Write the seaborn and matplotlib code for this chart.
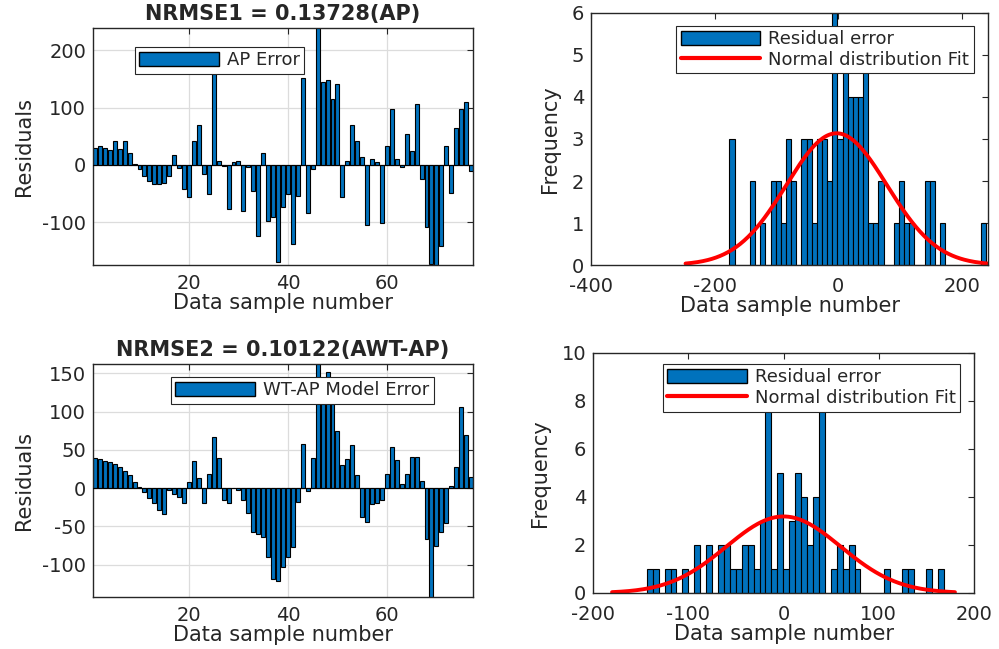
import numpy as np
import matplotlib
matplotlib.use("Agg")
import matplotlib.pyplot as plt
import seaborn as sns
from matplotlib.patches import Patch
from matplotlib.lines import Line2D

# residuals per data sample (1..77)
ap_error = [30, 33, 30, 26, 41, 27, 41, 20, 2, -8,
            -19, -28, -33, -34, -31, -19, 17, -5, -42, -57,
            41, 69, -16, -51, 158, 7, -2, -77, 5, 6,
            -80, -3, -45, -124, 20, -98, -92, -170,
            -74, -51, -138, -54, 152, -84, -8, 245,
            145, 149, 115, 142,
            -57, 7, 69, 42, 13, -105, 10, 5, -102, 33,
            97, 10, -3, 53, 24, 106, -25, -108, -173, -176,
            -141, 33, -50, 64, 97, 110, -10]

wt_ap_error = [40, 38, 36, 34, 32, 27, 22, 17, 8, 2,
               -5, -13, -20, -29, -34, -3, -7, -12, -20, 8,
               36, 13, -20, 19, 67, 40, -15, -20, 0, -2,
               -15, -33, -57, -60, -64, -90, -118, -121, -103, -90,
               -77, -18, 58, -4, 40, 165, 110, 151, 110, 75,
               30, 38, 56, 17, -38, -44, -21, -20, -15, 19,
               54, 37, 5, 19, 41, 41, 10, -66, -145, -75,
               -57, -46, 3, 28, 106, 70, 14]

# histogram counts, 50 equal bins over the residual range
ap_hist_range = (-176, 240)
ap_hist_counts = [3, 0, 0, 0, 2, 0, 1, 0, 2, 2,
                  1, 3, 2, 0, 3, 3, 1, 3, 3, 2,
                  6, 3, 5, 4, 4, 4, 5, 1, 1, 2,
                  0, 0, 1, 2, 1, 1, 0, 0, 2, 2,
                  0, 1, 0, 0, 0, 0, 0, 0, 0, 1]

wt_hist_range = (-143.5, 168)
wt_hist_counts = [1, 1, 0, 1, 1, 0, 1, 0, 2, 0,
                  2, 0, 2, 2, 1, 1, 2, 2, 1, 3,
                  8, 1, 5, 1, 3, 5, 4, 2, 4, 9,
                  0, 1, 2, 1, 2, 1, 0, 0, 0, 0,
                  1, 0, 0, 1, 1, 0, 0, 1, 0, 1]

# normal distribution fits (mean, std)
ap_fit = (-2.5, 81.5)
wt_fit = (0.0, 60.0)

bar_blue = "#0072BD"
dark = "#262626"

sns.set_style("white")
plt.rcParams["font.family"] = ["DejaVu Sans"]
plt.rcParams["axes.unicode_minus"] = False
plt.rcParams["xtick.direction"] = "in"
plt.rcParams["ytick.direction"] = "in"

fig = plt.figure(figsize=(9.99, 6.49), dpi=100)
W, H = 999, 649


def px_axes(left, top, right, bottom):
    return fig.add_axes([left / W, 1 - bottom / H, (right - left) / W, (bottom - top) / H])


def style_axes(ax, xpad):
    for s in ax.spines.values():
        s.set_color(dark)
        s.set_linewidth(1.0)
    ax.tick_params(top=True, right=True, length=4, width=0.8, colors=dark,
                   labelsize=14, labelcolor=dark)
    ax.tick_params(axis="x", pad=xpad)
    ax.tick_params(axis="y", pad=5)


def make_legend(ax, handles, anchor, hl):
    leg = ax.legend(handles=handles, loc="upper left", bbox_to_anchor=anchor,
                    borderaxespad=0, fontsize=13, handlelength=hl, handleheight=0.8,
                    borderpad=0.25, labelspacing=0.15, handletextpad=0.45,
                    fancybox=False, framealpha=1, edgecolor=dark)
    leg.get_frame().set_linewidth(0.8)


def residual_panel(ax, values, title, legend_label, ylim, yticks, leg_anchor):
    samples = np.arange(1, len(values) + 1)
    sns.barplot(x=samples, y=values, native_scale=True, color=bar_blue,
                saturation=1, edgecolor="black", linewidth=0.8, width=0.8,
                errorbar=None, ax=ax)
    ax.axhline(0, color="black", lw=0.8, zorder=3)
    ax.set_xlim(0.6, 77.4)
    ax.set_ylim(*ylim)
    ax.set_xticks([20, 40, 60])
    ax.set_yticks(yticks)
    ax.grid(True, color="#dcdcdc", linewidth=0.9)
    ax.set_axisbelow(True)
    style_axes(ax, 6.5)
    ax.set_title(title, fontsize=15, fontweight="bold", pad=6)
    ax.set_xlabel("Data sample number", fontsize=15, labelpad=0)
    ax.set_ylabel("Residuals", fontsize=15, labelpad=6)
    make_legend(ax, [Patch(facecolor=bar_blue, edgecolor="black", label=legend_label)],
                leg_anchor, 4.4)


def hist_panel(ax, counts, hist_range, fit, xlim, xticks, ylim, yticks, leg_anchor):
    lo, hi = hist_range
    nb = len(counts)
    bw = (hi - lo) / nb
    centers = lo + bw * (np.arange(nb) + 0.5)
    sns.barplot(x=centers, y=counts, native_scale=True, color=bar_blue,
                saturation=1, edgecolor="black", linewidth=0.8, width=1.0,
                errorbar=None, ax=ax)
    mu, sd = fit
    xs = np.linspace(mu - 3 * sd, mu + 3 * sd, 300)
    ys = sum(counts) * bw * np.exp(-0.5 * ((xs - mu) / sd) ** 2) / (sd * np.sqrt(2 * np.pi))
    sns.lineplot(x=xs, y=ys, color="red", linewidth=2.8, ax=ax)
    ax.set_xlim(*xlim)
    ax.set_ylim(*ylim)
    ax.set_xticks(xticks)
    ax.set_yticks(yticks)
    style_axes(ax, 8.5)
    ax.set_xlabel("Data sample number", fontsize=15, labelpad=0)
    ax.set_ylabel("Frequency", fontsize=15, labelpad=8)
    handles = [Patch(facecolor=bar_blue, edgecolor="black", label="Residual error"),
               Line2D([0], [0], color="red", lw=3, label="Normal distribution Fit")]
    make_legend(ax, handles, leg_anchor, 4.4)


ax1 = px_axes(93, 28, 473, 265)
ax2 = px_axes(591, 13, 988, 265)
ax3 = px_axes(93, 364, 473, 597)
ax4 = px_axes(593, 353, 974, 593)

residual_panel(ax1, ap_error, "NRMSE1 = 0.13728(AP)", "AP Error",
               (-175, 239), [-100, 0, 100, 200], (0.11, 0.92))
residual_panel(ax3, wt_ap_error, "NRMSE2 = 0.10122(AWT-AP)", "WT-AP Model Error",
               (-142, 162), [-100, -50, 0, 50, 100, 150], (0.205, 0.945))

hist_panel(ax2, ap_hist_counts, ap_hist_range, ap_fit, (-400, 242.5),
           [-400, -200, 0, 200], (0, 6), range(0, 7), (0.215, 0.95))
hist_panel(ax4, wt_hist_counts, wt_hist_range, wt_fit, (-200, 200),
           [-200, -100, 0, 100, 200], (0, 10), range(0, 11, 2), (0.183, 0.955))

fig.savefig("out.png", dpi=100)
